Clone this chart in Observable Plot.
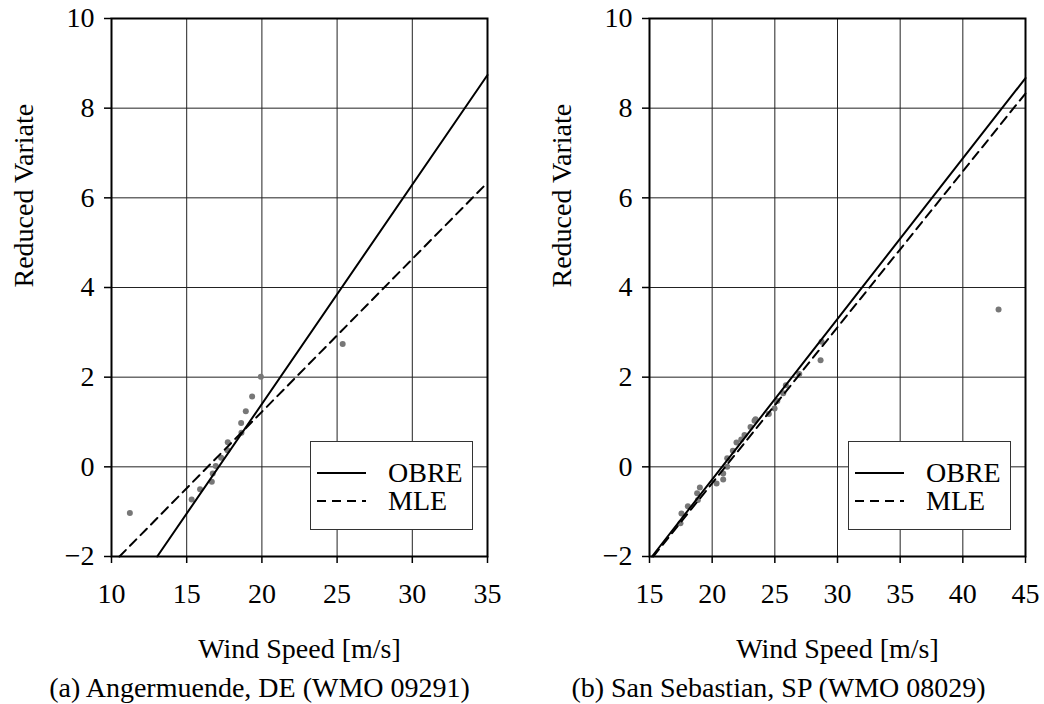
<!DOCTYPE html>
<html>
<head>
<meta charset="utf-8">
<script src="https://cdn.jsdelivr.net/npm/d3@7"></script>
<script src="https://cdn.jsdelivr.net/npm/@observablehq/plot@0.6"></script>
<style>
  body { margin: 0; background: white; }
  #wrap { display: flex; width: 1044px; height: 704px; }
  .panel { position: relative; width: 522px; height: 704px; }
  .legend { position: absolute; background: white; border: 1.5px solid #333; box-sizing: border-box;
            width: 163px; height: 89px; font-family: "Liberation Serif", "Times New Roman", serif; font-size: 28px; }
  .row { position: absolute; left: 0; height: 28px; width: 100%; }
  .row svg { position: absolute; left: 6px; top: 0; }
  .row span { position: absolute; left: 77px; top: -3px; line-height: 34px; }
</style>
</head>
<body>
<div id="wrap"></div>
<script>
// ---- Data ----
const yTicks = [-2, 0, 2, 4, 6, 8, 10];
const xTicksA = [10, 15, 20, 25, 30, 35];
const xTicksB = [15, 20, 25, 30, 35, 40, 45];

// (a) Angermuende points
const windA = [11.22, 15.33, 15.89, 16.67, 16.73, 16.93, 17.29, 17.71, 17.73, 18.64, 18.62, 18.93, 19.35, 19.93, 25.37];
const varA  = [-1.03, -0.73, -0.50, -0.33, -0.15, 0.02, 0.20, 0.37, 0.55, 0.76, 0.98, 1.24, 1.57, 2.01, 2.74];
// fitted lines (endpoints)
const obreA_w = [13.04, 35]; const obreA_v = [-2, 8.74];
const mleA_w  = [10.53, 35]; const mleA_v  = [-2, 6.34];

// (b) San Sebastian points
const windB = [17.47, 17.55, 18.06, 18.86, 18.80, 19.02, 20.35, 20.88, 20.88, 21.20, 21.20, 21.65, 21.94, 22.32,
               22.58, 23.06, 23.38, 23.46, 24.52, 24.98, 25.20, 25.67, 25.88, 26.95, 28.65, 28.73, 42.85];
const varB  = [-1.26, -1.04, -0.88, -0.74, -0.59, -0.46, -0.37, -0.28, -0.15, 0.00, 0.19, 0.36, 0.54, 0.61,
               0.71, 0.89, 1.03, 1.06, 1.18, 1.30, 1.47, 1.64, 1.82, 2.07, 2.38, 2.79, 3.51];
const obreB_w = [15.2, 45]; const obreB_v = [-2, 8.67];
const mleB_w  = [15.3, 45]; const mleB_v  = [-2, 8.33];

const legendLabels = ["OBRE", "MLE"];
const captions = ["(a) Angermuende, DE (WMO 09291)", "(b) San Sebastian, SP (WMO 08029)"];
const xTitle = "Wind Speed [m/s]";
const yTitle = "Reduced Variate";

const minus = d => d < 0 ? "\u2212" + Math.abs(d) : String(d);
const zip = (a, b) => a.map((v, i) => ({w: v, v: b[i]}));
const FONT = "'Liberation Serif', 'Times New Roman', serif";

function panel(cfg) {
  const pts = zip(cfg.wind, cfg.vari);
  const obre = zip(cfg.obreW, cfg.obreV);
  const mle = zip(cfg.mleW, cfg.mleV);
  const txt = {fill: "black", fontFamily: FONT, fontSize: 28};
  const chart = Plot.plot({
    width: 522, height: 704,
    marginLeft: cfg.ml, marginRight: cfg.mr, marginTop: 18, marginBottom: 148,
    style: `font-family: ${FONT}; font-size: 28px; background: white; color: black; overflow: visible;`,
    x: {domain: cfg.xDomain, ticks: cfg.xTicks},
    y: {domain: [-2, 10], ticks: yTicks},
    marks: [
      Plot.gridX(cfg.xTicks, {stroke: "#222", strokeOpacity: 1, strokeWidth: 1}),
      Plot.gridY(yTicks, {stroke: "#222", strokeOpacity: 1, strokeWidth: 1}),
      Plot.dot(pts, {x: "w", y: "v", r: 3, fill: "#777", stroke: "none"}),
      Plot.line(obre, {x: "w", y: "v", stroke: "black", strokeWidth: 2}),
      Plot.line(mle, {x: "w", y: "v", stroke: "black", strokeWidth: 2, strokeDasharray: "9,6"}),
      Plot.frame({stroke: "black", strokeWidth: 2}),
      Plot.axisX(cfg.xTicks, {tickSize: 7, tickPadding: 20, label: null, tickFormat: minus, strokeWidth: 1.5, fontFamily: FONT, fontSize: 28, fontVariant: "normal"}),
      Plot.axisY(yTicks, {tickSize: 7, tickPadding: 10, label: null, tickFormat: minus, strokeWidth: 1.5, fontFamily: FONT, fontSize: 28, fontVariant: "normal"}),
      Plot.text([xTitle], {frameAnchor: "bottom", dy: 93, lineAnchor: "middle", ...txt}),
      Plot.text([cfg.caption], {frameAnchor: "bottom", dy: 132, dx: cfg.capDx, lineAnchor: "middle", ...txt}),
      Plot.text([yTitle], {frameAnchor: "left", rotate: -90, dx: -87, lineAnchor: "middle", ...txt})
    ]
  });
  const div = document.createElement("div");
  div.className = "panel";
  div.appendChild(chart);
  // legend overlay
  const lg = document.createElement("div");
  lg.className = "legend";
  lg.style.left = cfg.legLeft + "px";
  lg.style.top = "441px";
  legendLabels.forEach((lab, i) => {
    const row = document.createElement("div");
    row.className = "row";
    row.style.top = (17 + i * 28) + "px";
    const dash = i === 1 ? ' stroke-dasharray="9,6"' : '';
    row.innerHTML = `<svg width="50" height="28"><line x1="0" y1="14" x2="49" y2="14" stroke="black" stroke-width="2"${dash}/></svg><span>${lab}</span>`;
    lg.appendChild(row);
  });
  div.appendChild(lg);
  return div;
}

const wrap = document.getElementById("wrap");
wrap.appendChild(panel({wind: windA, vari: varA, obreW: obreA_w, obreV: obreA_v, mleW: mleA_w, mleV: mleA_v,
  xDomain: [10, 35], xTicks: xTicksA, ml: 111, mr: 35, caption: captions[0], capDx: -40, legLeft: 310}));
wrap.appendChild(panel({wind: windB, vari: varB, obreW: obreB_w, obreV: obreB_v, mleW: mleB_w, mleV: mleB_v,
  xDomain: [15, 45], xTicks: xTicksB, ml: 127, mr: 19, caption: captions[1], capDx: -59, legLeft: 326}));
</script>
</body>
</html>
